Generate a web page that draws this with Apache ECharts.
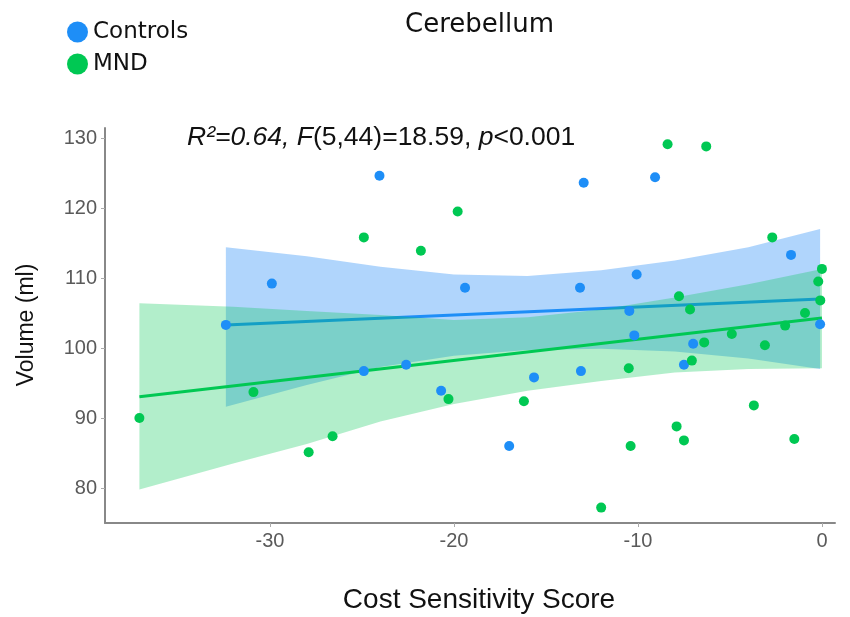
<!DOCTYPE html>
<html>
<head>
<meta charset="utf-8">
<script src="https://cdn.jsdelivr.net/npm/echarts@6/dist/echarts.min.js"></script>
<style>html,body{margin:0;padding:0;background:#fff}#c{width:850px;height:617px}</style>
</head>
<body>
<div id="c"></div>
<script>
// ---- data ----
const xTicks = [-30, -20, -10, 0];
const yTicks = [80, 90, 100, 110, 120, 130];

const controlsX = [-32.4, -29.9, -24.05, -19.4, -12.95, -9.07, -1.68, -10.07, -13.15, -10.47, -0.1, -24.9, -22.6, -20.7, -10.2, -7.0, -7.5, -13.1, -15.65, -17.0];
const controlsY = [103.3, 109.2, 124.6, 108.6, 123.6, 124.4, 113.3, 110.5, 108.6, 105.3, 103.4, 96.7, 97.6, 93.9, 101.8, 100.6, 97.6, 96.7, 95.8, 86.0];

const mndX = [-19.8, -24.9, -21.8, -8.39, -6.29, -2.7, 0.0, -0.2, -7.77, -0.09, -7.17, -0.92, -2.0, -4.9, -6.4, -3.1, -7.07, -10.5, -16.2, -3.7, -7.9, -7.5, -1.5, -10.4, -12.0, -30.9, -37.1, -20.3, -26.6, -27.9];
const mndY = [119.5, 115.8, 113.9, 129.1, 128.8, 115.8, 111.3, 109.5, 107.4, 106.8, 105.5, 105.0, 103.2, 102.0, 100.8, 100.4, 98.2, 97.1, 92.4, 91.8, 88.8, 86.8, 87.0, 86.0, 77.2, 93.7, 90.0, 92.7, 87.4, 85.1];

// fitted lines (end points)
const controlsFitX = [-32.4, -0.1];
const controlsFitY = [103.3, 107.0];
const mndFitX = [-37.1, 0.0];
const mndFitY = [93.05, 104.3];

// confidence bands
const controlsBandX = [-32.4, -28, -24, -20, -16, -12, -8, -4, -0.1];
const controlsBandUpper = [114.4, 113.1, 111.6, 110.5, 110.3, 111.1, 112.5, 114.4, 117.0];
const controlsBandLower = [91.6, 94.7, 97.3, 98.9, 99.7, 99.9, 99.5, 98.5, 97.0];

const mndBandX = [-37.1, -32, -28, -24, -20, -16, -12, -8, -4, 0.0];
const mndBandUpper = [106.4, 105.9, 105.3, 104.7, 104.0, 104.4, 105.5, 107.2, 109.1, 111.3];
const mndBandLower = [79.8, 83.5, 86.3, 89.5, 92.0, 93.9, 95.3, 96.5, 97.0, 97.1];

// ---- chart ----
const BLUE = '#1E8EF7';
const GREEN = '#00C853';

function zip(a, b) { return a.map((v, i) => [v, b[i]]); }

function bandSeries(name, bx, up, lo, fill, z) {
  return {
    type: 'custom',
    name: name,
    z: z,
    silent: true,
    clip: true,
    data: [[bx[0], up[0]]],
    renderItem: function (params, api) {
      const pts = [];
      for (let i = 0; i < bx.length; i++) pts.push(api.coord([bx[i], up[i]]));
      for (let i = bx.length - 1; i >= 0; i--) pts.push(api.coord([bx[i], lo[i]]));
      return { type: 'polygon', shape: { points: pts }, style: { fill: fill, stroke: null } };
    }
  };
}

const chart = echarts.init(document.getElementById('c'), null, { renderer: 'canvas' });
chart.setOption({
  animation: false,
  backgroundColor: '#ffffff',
  title: {
    text: 'Cerebellum',
    left: 400, top: 7,
    textStyle: { fontFamily: 'DejaVu Sans', fontSize: 26, fontWeight: 'normal', color: '#111' }
  },
  legend: {
    orient: 'vertical',
    left: 62, top: 14,
    data: ['Controls', 'MND'],
    icon: 'circle',
    itemWidth: 21, itemHeight: 21,
    itemGap: 6,
    textStyle: { fontFamily: 'DejaVu Sans', fontSize: 23, color: '#111', lineHeight: 26 }
  },
  grid: { left: 105, right: 15, top: 128, bottom: 94 },
  xAxis: {
    type: 'value',
    min: -38.97, max: 0.71,
    splitLine: { show: false },
    axisLine: { onZero: false, lineStyle: { color: '#888', width: 2 } },
    axisTick: { customValues: xTicks, length: 4, lineStyle: { color: '#aaa' } },
    axisLabel: { customValues: xTicks, fontFamily: 'Liberation Sans', fontSize: 20, color: '#5a5a5a', margin: 8 }
  },
  yAxis: {
    type: 'value',
    min: 75, max: 131.43,
    splitLine: { show: false },
    axisLine: { show: true, onZero: false, lineStyle: { color: '#888', width: 2 } },
    axisTick: { show: true, customValues: yTicks, length: 4, lineStyle: { color: '#aaa' } },
    axisLabel: { customValues: yTicks, fontFamily: 'Liberation Sans', fontSize: 20, color: '#5a5a5a', margin: 8 }
  },
  graphic: [
    {
      type: 'text', left: 187, top: 124, z: 100,
      style: {
        text: '{i|R²=0.64, F}{n|(5,44)=18.59, }{i|p}{n|<0.001}',
        rich: {
          i: { fontFamily: 'Liberation Sans', fontStyle: 'italic', fontSize: 26.5, fill: '#111' },
          n: { fontFamily: 'Liberation Sans', fontSize: 26.5, fill: '#111' }
        }
      }
    },
    {
      type: 'text', x: 27, y: 325, rotation: Math.PI / 2, z: 100,
      style: { text: 'Volume (ml)', fontFamily: 'Liberation Sans', fontSize: 23, fill: '#111', align: 'center', verticalAlign: 'middle' }
    },
    {
      type: 'text', x: 479, y: 600, z: 100,
      style: { text: 'Cost Sensitivity Score', fontFamily: 'Liberation Sans', fontSize: 28, fill: '#111', align: 'center', verticalAlign: 'middle' }
    }
  ],
  series: [
    bandSeries('ctrlBand', controlsBandX, controlsBandUpper, controlsBandLower, 'rgba(30,136,245,0.35)', 1),
    {
      type: 'line', name: 'ctrlFit', z: 2, silent: true,
      data: zip(controlsFitX, controlsFitY), showSymbol: false,
      lineStyle: { color: BLUE, width: 3 }
    },
    bandSeries('mndBand', mndBandX, mndBandUpper, mndBandLower, 'rgba(0,200,83,0.30)', 3),
    {
      type: 'line', name: 'mndFit', z: 4, silent: true,
      data: zip(mndFitX, mndFitY), showSymbol: false,
      lineStyle: { color: GREEN, width: 3 }
    },
    {
      type: 'scatter', name: 'Controls', z: 5,
      data: zip(controlsX, controlsY), symbolSize: 10,
      itemStyle: { color: BLUE, opacity: 1 }
    },
    {
      type: 'scatter', name: 'MND', z: 5,
      data: zip(mndX, mndY), symbolSize: 10,
      itemStyle: { color: GREEN, opacity: 1 }
    }
  ]
});
</script>
</body>
</html>
